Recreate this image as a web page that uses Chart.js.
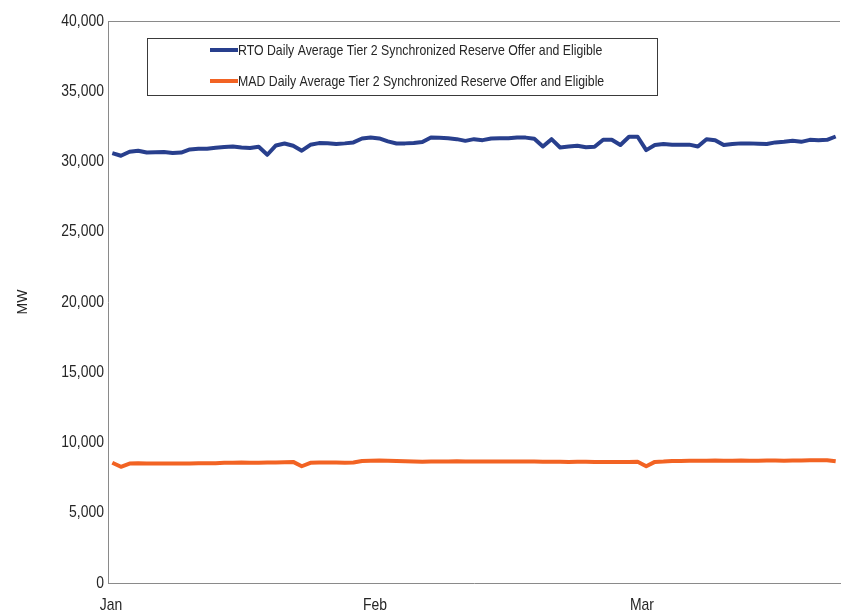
<!DOCTYPE html>
<html><head><meta charset="utf-8">
<script src="https://cdn.jsdelivr.net/npm/chart.js@4.4.0/dist/chart.umd.min.js"></script>
<style>html,body{margin:0;padding:0;background:#fff;} #wrap{position:relative;width:841px;height:613px;}</style>
</head><body><div id="wrap"><canvas id="c" width="841" height="613"></canvas></div>
<script>
const categories = [
 '1-Jan','2-Jan','3-Jan','4-Jan','5-Jan','6-Jan','7-Jan','8-Jan','9-Jan','10-Jan','11-Jan','12-Jan','13-Jan','14-Jan','15-Jan','16-Jan','17-Jan','18-Jan','19-Jan','20-Jan','21-Jan','22-Jan','23-Jan','24-Jan','25-Jan','26-Jan','27-Jan','28-Jan','29-Jan','30-Jan','31-Jan',
 '1-Feb','2-Feb','3-Feb','4-Feb','5-Feb','6-Feb','7-Feb','8-Feb','9-Feb','10-Feb','11-Feb','12-Feb','13-Feb','14-Feb','15-Feb','16-Feb','17-Feb','18-Feb','19-Feb','20-Feb','21-Feb','22-Feb','23-Feb','24-Feb','25-Feb','26-Feb','27-Feb','28-Feb',
 '1-Mar','2-Mar','3-Mar','4-Mar','5-Mar','6-Mar','7-Mar','8-Mar','9-Mar','10-Mar','11-Mar','12-Mar','13-Mar','14-Mar','15-Mar','16-Mar','17-Mar','18-Mar','19-Mar','20-Mar','21-Mar','22-Mar','23-Mar','24-Mar','25-Mar','26-Mar'
];
const tickIndex = [0, 31, 62];
const tickText = ['Jan', 'Feb', 'Mar'];
const yTicks = [0, 5000, 10000, 15000, 20000, 25000, 30000, 35000, 40000];
const rtoLabel = 'RTO Daily Average Tier 2 Synchronized Reserve Offer and Eligible';
const madLabel = 'MAD Daily Average Tier 2 Synchronized Reserve Offer and Eligible';
const rto = [
 30600,30410,30690,30770,30640,30650,30670,30600,30640,30860,
 30910,30910,30980,31030,31070,31000,30960,31050,30480,31140,
 31280,31120,30770,31190,31310,31300,31240,31290,31360,31640,
 31710,31640,31430,31280,31290,31320,31380,31710,31690,31660,
 31590,31470,31590,31520,31640,31660,31660,31710,31700,31620,
 31070,31590,31000,31060,31120,31010,31050,31550,31550,31170,
 31760,31760,30810,31170,31240,31190,31190,31200,31070,31590,
 31520,31170,31240,31290,31290,31270,31240,31360,31400,31470,
 31400,31540,31520,31540,31780
];
const mad = [
 8560,8270,8500,8520,8510,8500,8510,8510,8500,8510,
 8520,8520,8530,8550,8560,8570,8560,8560,8570,8580,
 8600,8620,8310,8550,8570,8570,8570,8560,8570,8680,
 8700,8710,8700,8680,8660,8640,8630,8650,8640,8650,
 8660,8640,8640,8650,8650,8640,8640,8640,8640,8640,
 8630,8630,8630,8620,8630,8630,8620,8620,8620,8620,
 8620,8630,8310,8620,8640,8680,8690,8700,8700,8700,
 8710,8700,8700,8710,8700,8700,8710,8710,8700,8720,
 8720,8730,8730,8740,8660
];

const FONT = '"Liberation Sans", Arial, sans-serif';
const NARROW = 0.82;   // horizontal condensing to mimic Arial Narrow
const TXT = '#262626';
const AXIS = '#8a8a8a';

function narrowText(ctx, text, x, y, size, align) {
  ctx.save();
  ctx.translate(x, y);
  ctx.scale(NARROW, 1);
  ctx.font = size + 'px ' + FONT;
  ctx.fillStyle = TXT;
  ctx.textAlign = align; ctx.textBaseline = 'middle';
  ctx.fillText(text, 0, 0);
  ctx.restore();
}

const topBorder = {
  id: 'topBorder',
  afterDraw(chart) {
    const {ctx, chartArea} = chart;
    ctx.save();
    ctx.strokeStyle = AXIS; ctx.lineWidth = 1;
    ctx.beginPath();
    ctx.moveTo(chartArea.left, Math.round(chartArea.top) + 0.5);
    ctx.lineTo(chartArea.right, Math.round(chartArea.top) + 0.5);
    ctx.stroke();
    ctx.restore();
  }
};

const narrowTicks = {
  id: 'narrowTicks',
  afterDraw(chart) {
    const ctx = chart.ctx;
    const xs = chart.scales.x, ys = chart.scales.y;
    yTicks.forEach(v => {
      narrowText(ctx, v.toLocaleString('en-US'), xs.left - 4, ys.getPixelForValue(v), 17, 'right');
    });
    tickIndex.forEach((idx, k) => {
      // label centred on the category boundary (Excel-style tick position)
      const px = Math.max(xs.getPixelForValue(idx - 0.5), xs.left + 3);
      narrowText(ctx, tickText[k], px, ys.bottom + 22, 17, 'center');
    });
  }
};

const boxLegend = {
  id: 'boxLegend',
  afterDraw(chart) {
    const ctx = chart.ctx;
    ctx.save();
    ctx.fillStyle = '#fff';
    ctx.fillRect(147, 38, 510, 57);
    ctx.strokeStyle = '#3a3a3a'; ctx.lineWidth = 1;
    ctx.strokeRect(147.5, 38.5, 510, 57);
    chart.data.datasets.forEach((ds, i) => {
      const y = 50 + i * 31;
      ctx.strokeStyle = ds.borderColor; ctx.lineWidth = 4; ctx.lineCap = 'butt';
      ctx.beginPath(); ctx.moveTo(210, y); ctx.lineTo(238, y); ctx.stroke();
      narrowText(ctx, ds.label, 238, y + 1, 15, 'left');
    });
    ctx.restore();
  }
};

new Chart(document.getElementById('c').getContext('2d'), {
  type: 'line',
  data: {
    labels: categories,
    datasets: [
      {label: rtoLabel, data: rto, borderColor: '#283F8D', borderWidth: 4, pointRadius: 0, tension: 0, fill: false, borderJoinStyle: 'round'},
      {label: madLabel, data: mad, borderColor: '#F26323', borderWidth: 4, pointRadius: 0, tension: 0, fill: false, borderJoinStyle: 'round'}
    ]
  },
  options: {
    responsive: false, animation: false, devicePixelRatio: 1,
    layout: {padding: {top: 21, right: 1, left: 0, bottom: 0}},
    plugins: {legend: {display: false}, tooltip: {enabled: false}},
    scales: {
      x: {
        type: 'category', offset: true,
        grid: {display: false, drawTicks: false},
        border: {display: true, color: AXIS, width: 1},
        ticks: {display: false, autoSkip: false},
        afterFit: (s) => { s.height = 30; s.paddingLeft = 0; s.paddingRight = 0; }
      },
      y: {
        min: 0, max: 40000,
        afterBuildTicks: (s) => { s.ticks = yTicks.map(v => ({value: v})); },
        grid: {display: false, drawTicks: false},
        border: {display: true, color: AXIS, width: 1},
        ticks: {display: false},
        title: {display: true, text: 'MW', color: TXT, font: {family: FONT, size: 14}, padding: {top: 15, bottom: 0}},
        afterFit: (s) => { s.width = 108; s.paddingTop = 0; s.paddingBottom = 0; }
      }
    }
  },
  plugins: [topBorder, narrowTicks, boxLegend]
});
</script>
</body></html>
